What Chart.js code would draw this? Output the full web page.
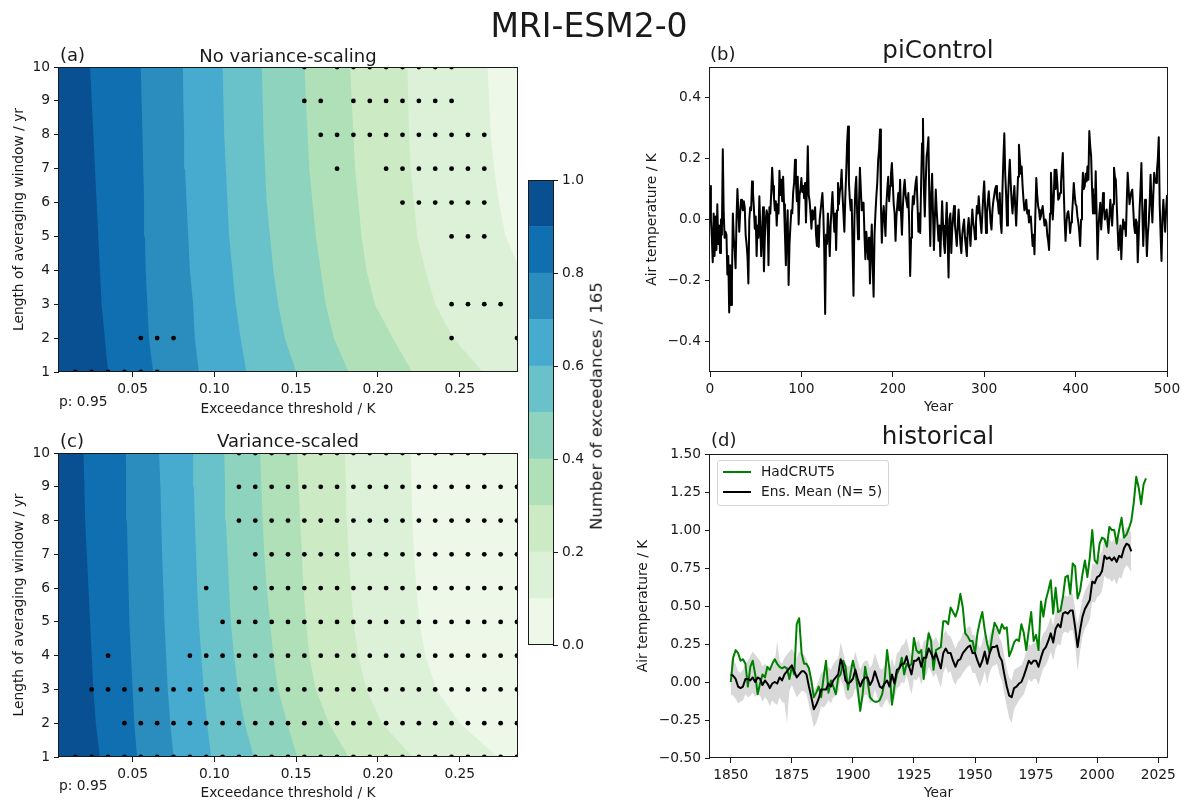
<!DOCTYPE html>
<html>
<head>
<meta charset="utf-8">
<title>MRI-ESM2-0</title>
<script src="https://cdn.jsdelivr.net/npm/chart.js"></script>
<style>
  html, body { margin: 0; padding: 0; background: #fff; overflow: hidden; }
  #fig { position: relative; width: 1187px; height: 803px; overflow: hidden;
         font-family: "DejaVu Sans", sans-serif; color: #1a1a1a; }
  #fig canvas { position: absolute; left: 0; top: 0; }
  .lbl { position: absolute; white-space: nowrap; line-height: 1; }
  .c { transform: translate(-50%, -50%); }
  .l { transform: translate(0, -50%); }
  #legend { position: absolute; left: 717px; top: 460px; width: 172px; height: 46px; box-sizing: border-box;
            border: 1px solid #d4d4d4; border-radius: 3px; background: rgba(255,255,255,0.85); }
  #legend .sw { position: absolute; left: 5px; width: 28px; height: 2px; }
  #legend .tx { position: absolute; left: 43px; font-size: 13.8px; line-height: 1; transform: translate(0, -50%); white-space: nowrap; }
</style>
</head>
<body>
<div id="fig">
  <canvas id="cA" width="1187" height="803"></canvas>
  <canvas id="cC" width="1187" height="803"></canvas>
  <canvas id="cBar" width="1187" height="803"></canvas>
  <canvas id="cB" width="1187" height="803"></canvas>
  <canvas id="cD" width="1187" height="803"></canvas>

  <div class="lbl c" style="left:589px;top:25px;font-size:33px">MRI-ESM2-0</div>

  <div class="lbl l" style="left:60px;top:55px;font-size:18px">(a)</div>
  <div class="lbl c" style="left:288px;top:56px;font-size:18px">No variance-scaling</div>
  <div class="lbl l" style="left:59px;top:402px;font-size:13.8px">p: 0.95</div>

  <div class="lbl l" style="left:60px;top:441px;font-size:18px">(c)</div>
  <div class="lbl c" style="left:288px;top:441px;font-size:18px">Variance-scaled</div>
  <div class="lbl l" style="left:59px;top:786px;font-size:13.8px">p: 0.95</div>

  <div class="lbl c" style="left:597px;top:406px;font-size:16.5px;transform:translate(-50%,-50%) rotate(-90deg)">Number of exceedances / 165</div>

  <div class="lbl l" style="left:710px;top:54px;font-size:18px">(b)</div>
  <div class="lbl c" style="left:938px;top:50px;font-size:24.6px">piControl</div>

  <div class="lbl l" style="left:711px;top:440px;font-size:18px">(d)</div>
  <div class="lbl c" style="left:938px;top:436px;font-size:24.6px">historical</div>

  <div id="legend"></div>
</div>

<script>
// ---------------- data ----------------

// averaging windows (yr) and exceedance-threshold axis
const windows = [1, 2, 3, 4, 5, 6, 7, 8, 9, 10];
const thresholdRange = [0.005, 0.285];
const thresholdTicks = [0.05, 0.10, 0.15, 0.20, 0.25];
const windowTicks = [1, 2, 3, 4, 5, 6, 7, 8, 9, 10];

// colour levels of the exceedance fraction (0 .. 1 in steps of 0.1), GnBu
const levels = [0.0, 0.1, 0.2, 0.3, 0.4, 0.5, 0.6, 0.7, 0.8, 0.9, 1.0];
const bandColors = ['#eef8e8', '#dcf1d7', '#ccebc5', '#afe0b8', '#8dd3be',
                    '#69c2ca', '#47abcf', '#2b8cbe', '#0f6fb0', '#085091'];
const levelTicks = [0.0, 0.2, 0.4, 0.6, 0.8, 1.0];

// contour lines (threshold in K at windows 1..10) for levels 0.1 .. 0.9
const noScaleBounds = [
  [0.310, 0.305, 0.297, 0.287, 0.278, 0.274, 0.271, 0.269, 0.268, 0.267],
  [0.264, 0.246, 0.235, 0.229, 0.224, 0.222, 0.220, 0.219, 0.2185, 0.218],
  [0.221, 0.209, 0.198, 0.193, 0.190, 0.188, 0.186, 0.185, 0.184, 0.183],
  [0.182, 0.173, 0.168, 0.165, 0.162, 0.160, 0.158, 0.157, 0.156, 0.155],
  [0.150, 0.143, 0.139, 0.136, 0.134, 0.132, 0.131, 0.130, 0.1295, 0.129],
  [0.1195, 0.116, 0.113, 0.111, 0.109, 0.108, 0.107, 0.106, 0.1055, 0.105],
  [0.0905, 0.088, 0.087, 0.085, 0.084, 0.083, 0.082, 0.0815, 0.081, 0.0807],
  [0.0625, 0.060, 0.059, 0.058, 0.0575, 0.057, 0.0565, 0.056, 0.0555, 0.055],
  [0.035, 0.033, 0.031, 0.030, 0.029, 0.028, 0.027, 0.026, 0.025, 0.024]
];
const scaledBounds = [
  [0.273, 0.250, 0.2357, 0.229, 0.2253, 0.2235, 0.222, 0.221, 0.2205, 0.220],
  [0.221, 0.2025, 0.193, 0.188, 0.185, 0.1835, 0.182, 0.181, 0.1805, 0.1797],
  [0.182, 0.170, 0.162, 0.158, 0.156, 0.1545, 0.1535, 0.1525, 0.1515, 0.1506],
  [0.1506, 0.1445, 0.139, 0.136, 0.134, 0.132, 0.1305, 0.1295, 0.1287, 0.128],
  [0.124, 0.1185, 0.1145, 0.112, 0.110, 0.109, 0.108, 0.107, 0.1065, 0.106],
  [0.098, 0.0955, 0.0935, 0.092, 0.0905, 0.0895, 0.0888, 0.088, 0.0875, 0.087],
  [0.075, 0.073, 0.0715, 0.0705, 0.0695, 0.0688, 0.068, 0.0675, 0.067, 0.0662],
  [0.0527, 0.051, 0.050, 0.049, 0.048, 0.0475, 0.047, 0.0465, 0.046, 0.0459],
  [0.030, 0.0275, 0.026, 0.025, 0.024, 0.023, 0.022, 0.021, 0.0205, 0.020]
];

// thresholds where the observed exceedances lie outside the p = 0.95 range (rows: windows 1..10)
const noScaleHits = [
  [0.015, 0.025, 0.035, 0.045, 0.055, 0.065],
  [0.055, 0.065, 0.075, 0.245, 0.285],
  [0.245, 0.255, 0.265, 0.275],
  [],
  [0.245, 0.255, 0.265],
  [0.215, 0.225, 0.235, 0.245, 0.255, 0.265],
  [0.175, 0.205, 0.215, 0.225, 0.235, 0.245, 0.255, 0.265],
  [0.165, 0.175, 0.185, 0.195, 0.205, 0.215, 0.225, 0.235, 0.245, 0.255, 0.265],
  [0.155, 0.165, 0.185, 0.195, 0.205, 0.215, 0.225, 0.235, 0.245],
  [0.155, 0.175, 0.185, 0.195, 0.205, 0.215, 0.225, 0.235, 0.245]
];
const scaledHits = [
  [0.015, 0.025, 0.035, 0.045, 0.055, 0.065, 0.075, 0.085, 0.095, 0.105, 0.115, 0.125, 0.135, 0.145,
   0.155, 0.165, 0.175, 0.185, 0.195, 0.205, 0.215, 0.225, 0.235, 0.245, 0.255, 0.265, 0.275, 0.285],
  [0.045, 0.055, 0.065, 0.075, 0.085, 0.095, 0.105, 0.115, 0.125, 0.135, 0.145,
   0.155, 0.165, 0.175, 0.185, 0.195, 0.205, 0.215, 0.225, 0.235, 0.245, 0.255, 0.265, 0.275, 0.285],
  [0.025, 0.035, 0.045, 0.055, 0.065, 0.075, 0.085, 0.095, 0.105, 0.115, 0.125, 0.135, 0.145,
   0.155, 0.165, 0.175, 0.185, 0.195, 0.205, 0.215, 0.225, 0.235, 0.245, 0.255, 0.265, 0.275, 0.285],
  [0.035, 0.085, 0.095, 0.105, 0.115, 0.125, 0.135, 0.145,
   0.155, 0.165, 0.175, 0.185, 0.195, 0.205, 0.215, 0.225, 0.235, 0.245, 0.255, 0.265, 0.275, 0.285],
  [0.105, 0.115, 0.125, 0.135, 0.145,
   0.155, 0.165, 0.175, 0.185, 0.195, 0.205, 0.215, 0.225, 0.235, 0.245, 0.255, 0.265, 0.275, 0.285],
  [0.095, 0.125, 0.135, 0.145,
   0.155, 0.165, 0.175, 0.185, 0.195, 0.205, 0.215, 0.225, 0.235, 0.245, 0.255, 0.265, 0.275, 0.285],
  [0.125, 0.135, 0.145,
   0.155, 0.165, 0.175, 0.185, 0.195, 0.205, 0.215, 0.225, 0.235, 0.245, 0.255, 0.265, 0.275, 0.285],
  [0.115, 0.125, 0.135, 0.145,
   0.155, 0.165, 0.175, 0.185, 0.195, 0.205, 0.215, 0.225, 0.235, 0.245, 0.255, 0.265, 0.275, 0.285],
  [0.115, 0.125, 0.135, 0.145,
   0.155, 0.165, 0.175, 0.185, 0.195, 0.205, 0.215, 0.225, 0.235, 0.245, 0.255, 0.265, 0.275, 0.285],
  [0.115, 0.125, 0.135, 0.145,
   0.155, 0.165, 0.175, 0.185, 0.195, 0.205, 0.215, 0.225, 0.235, 0.245, 0.255, 0.265]
];

// piControl global-mean air temperature anomaly (K), model years 0..500
const piControl = [
  0.11, 0.00, -0.06, -0.14, 0.02, -0.12, 0.01, -0.10, 0.05, -0.08,
  -0.02, -0.11, 0.00, -0.05, 0.23, 0.02, -0.06, -0.04, -0.05, -0.18,
  -0.12, -0.305, -0.15, -0.28, -0.20, 0.02, -0.06, -0.10, -0.16, 0.00,
  0.10, 0.03, -0.04, 0.02, 0.065, 0.05, 0.03, 0.06, 0.04, -0.05,
  -0.08, -0.12, -0.21, 0.00, 0.04, 0.03, 0.125, 0.09, 0.04, -0.03,
  0.01, -0.12, -0.02, -0.06, 0.076, -0.02, -0.12, -0.05, 0.04, -0.17,
  -0.06, 0.00, 0.03, 0.01, -0.15, 0.04, 0.02, 0.09, 0.17, 0.11,
  0.07, 0.03, 0.06, -0.02, 0.05, 0.02, 0.16, 0.08, 0.13, 0.06,
  0.14, 0.05, -0.05, -0.15, -0.03, 0.03, -0.215, -0.08, -0.02, 0.03,
  0.02, 0.09, 0.12, 0.196, 0.13, 0.06, 0.14, -0.016, 0.08, 0.10,
  0.136, 0.09, 0.11, 0.07, 0.12, -0.01, 0.10, 0.24, 0.08, 0.06,
  0.02, -0.03, 0.03, 0.00, 0.02, 0.04, -0.05, -0.087, -0.02, -0.09,
  0.00, 0.03, 0.06, 0.087, 0.02, -0.10, -0.31, -0.05, -0.08, 0.02,
  -0.04, -0.12, -0.02, 0.04, 0.09, 0.02, -0.04, 0.02, -0.10, 0.03,
  0.12, 0.05, 0.09, 0.11, 0.163, 0.08, 0.02, -0.04, 0.07, 0.15,
  0.25, 0.305, 0.12, 0.065, 0.03, 0.065, -0.10, -0.25, 0.00, 0.10,
  0.14, 0.02, -0.065, 0.05, 0.17, 0.10, 0.03, 0.055, 0.055, -0.05,
  -0.13, -0.04, -0.08, -0.13, -0.06, -0.21, -0.10, -0.016, -0.15, -0.253,
  -0.05, 0.02, 0.076, 0.12, 0.196, 0.23, 0.295, 0.05, -0.076, 0.00,
  0.044, 0.00, -0.054, 0.05, 0.10, 0.14, 0.06, 0.11, 0.15, 0.185,
  0.12, 0.05, 0.02, -0.07, 0.01, 0.05, 0.087, 0.03, 0.13, 0.02,
  -0.05, 0.04, 0.10, 0.13, 0.08, 0.06, 0.04, 0.087, -0.02, -0.185,
  -0.06, 0.02, 0.076, 0.05, 0.09, 0.12, 0.14, 0.05, -0.04, 0.02,
  -0.044, 0.12, 0.25, 0.33, 0.10, 0.01, 0.12, 0.207, 0.23, 0.27,
  0.05, -0.087, 0.08, 0.15, 0.02, -0.10, 0.00, 0.098, 0.03, -0.02,
  -0.07, -0.02, -0.12, -0.03, 0.06, -0.02, -0.08, -0.11, -0.02, 0.055,
  -0.06, -0.19, 0.00, 0.02, -0.11, -0.03, 0.01, 0.044, -0.02, -0.05,
  -0.087, -0.02, 0.033, -0.03, -0.08, -0.11, -0.05, -0.02, 0.00, -0.06,
  -0.09, -0.12, -0.03, 0.005, -0.04, -0.087, -0.02, 0.033, -0.01, -0.03,
  -0.065, -0.01, 0.044, 0.02, 0.076, 0.03, -0.01, -0.044, 0.02, 0.08,
  0.125, 0.04, -0.044, 0.02, 0.06, 0.093, 0.04, -0.01, -0.033, 0.03,
  0.06, 0.08, 0.10, 0.11, 0.07, 0.055, 0.02, 0.087, -0.01, -0.044,
  0.10, 0.20, 0.283, 0.15, 0.08, -0.02, 0.06, 0.14, 0.196, 0.12,
  0.06, 0.02, 0.07, 0.11, 0.04, -0.02, 0.06, 0.14, 0.245, 0.20,
  0.15, 0.174, 0.11, 0.065, 0.03, 0.04, 0.065, 0.02, 0.03, -0.01,
  0.00, 0.01, -0.04, -0.087, -0.05, -0.114, 0.02, 0.136, 0.08, 0.044,
  0.03, 0.00, 0.01, 0.03, 0.044, 0.01, -0.02, 0.00, -0.01, -0.05,
  -0.07, -0.10, 0.02, 0.153, 0.08, 0.00, 0.06, 0.163, 0.10, 0.163,
  0.12, 0.065, 0.07, 0.087, 0.12, 0.17, 0.218, 0.10, 0.00, -0.07,
  -0.01, 0.02, 0.027, 0.00, -0.044, -0.01, 0.01, 0.06, 0.12, 0.08,
  0.05, 0.044, 0.01, -0.01, -0.04, -0.087, 0.00, 0.08, 0.153, 0.10,
  0.11, 0.15, 0.125, 0.174, 0.13, 0.29, 0.24, 0.207, 0.10, 0.02,
  0.08, 0.02, 0.158, 0.02, -0.13, -0.03, 0.02, 0.055, -0.033, 0.02,
  0.087, 0.04, 0.00, 0.02, 0.033, -0.01, -0.044, 0.01, 0.065, 0.02,
  -0.02, 0.05, 0.17, 0.14, 0.13, 0.05, -0.03, -0.10, -0.06, -0.02,
  -0.13, -0.05, 0.00, -0.03, -0.01, -0.054, 0.06, 0.153, 0.10, 0.05,
  0.076, 0.09, 0.098, 0.04, -0.02, -0.044, 0.00, -0.01, -0.14, -0.06,
  0.033, 0.10, 0.185, 0.03, -0.087, 0.00, 0.065, -0.02, -0.12, -0.05,
  -0.01, 0.05, 0.147, 0.06, -0.01, 0.08, 0.153, 0.13, 0.12, 0.16,
  0.20, 0.27, 0.05, -0.05, -0.136, 0.00, 0.065, 0.01, -0.04, 0.03, 0.08
];
const controlTicksX = [0, 100, 200, 300, 400, 500];
const controlTicksY = [-0.4, -0.2, 0.0, 0.2, 0.4];

// historical: observed anomaly 1850..2020 and model ensemble 1850..2014 (K)
const obsStart = 1850;
const hadcrut5 = [
  0.00, 0.16, 0.21, 0.19, 0.14, 0.15, 0.12, -0.03, 0.10, 0.14,
  0.05, -0.08, -0.01, 0.05, 0.03, 0.10, 0.08, 0.12, 0.15, 0.12,
  0.10, 0.09, 0.10, 0.09, 0.02, 0.10, 0.05, 0.38, 0.42, 0.19,
  0.12, 0.12, 0.09, 0.01, -0.10, -0.07, -0.03, -0.10, 0.03, 0.14,
  -0.07, 0.01, -0.03, -0.08, 0.03, 0.05, 0.14, 0.10, -0.05, 0.05,
  0.14, 0.07, -0.05, -0.19, -0.08, 0.10, 0.01, -0.10, -0.12, -0.13,
  -0.13, -0.12, -0.08, 0.01, 0.21, 0.08, -0.15, -0.03, 0.05, 0.09,
  0.16, 0.05, 0.12, 0.10, 0.12, 0.29, 0.21, 0.19, 0.21, 0.02,
  0.20, 0.32, 0.27, 0.08, 0.21, 0.22, 0.23, 0.40, 0.40, 0.38,
  0.49, 0.46, 0.43, 0.48, 0.58, 0.49, 0.32, 0.30, 0.27, 0.27,
  0.19, 0.32, 0.40, 0.46, 0.34, 0.25, 0.19, 0.30, 0.39, 0.36,
  0.32, 0.38, 0.35, 0.36, 0.17, 0.21, 0.26, 0.28, 0.27, 0.38,
  0.32, 0.21, 0.34, 0.46, 0.27, 0.31, 0.21, 0.53, 0.43, 0.54,
  0.60, 0.67, 0.45, 0.62, 0.46, 0.47, 0.56, 0.69, 0.70, 0.58,
  0.78, 0.76, 0.55, 0.60, 0.71, 0.80, 0.69, 0.82, 1.00, 0.80,
  0.78, 0.91, 0.95, 0.94, 0.89, 1.02, 1.00, 1.00, 0.91, 1.00,
  1.08, 0.95, 0.97, 1.01, 1.06, 1.18, 1.35, 1.28, 1.17, 1.30,
  1.34
];
const ensMean = [
  0.05, 0.04, 0.02, -0.03, -0.04, -0.03, 0.02, 0.02, 0.01, 0.03,
  0.00, 0.03, 0.02, -0.02, 0.01, -0.01, -0.04, -0.01, 0.00, -0.01,
  0.03, 0.01, 0.05, 0.07, 0.09, 0.11, 0.07, 0.03, 0.05, 0.07,
  0.07, 0.05, -0.03, -0.10, -0.18, -0.15, -0.11, -0.05, -0.05, -0.05,
  -0.01, -0.03, 0.01, 0.03, 0.05, 0.15, 0.10, 0.01, -0.01, 0.00,
  0.02, 0.08, 0.02, -0.03, 0.01, 0.03, 0.03, -0.02, 0.01, 0.07,
  0.02, -0.03, -0.04, -0.01, 0.01, -0.03, 0.05, -0.01, 0.08, 0.09,
  0.12, 0.12, 0.17, 0.10, 0.05, 0.14, 0.14, 0.16, 0.10, 0.16,
  0.16, 0.22, 0.19, 0.15, 0.19, 0.14, 0.09, 0.19, 0.22, 0.19,
  0.19, 0.14, 0.10, 0.14, 0.15, 0.19, 0.21, 0.23, 0.24, 0.19,
  0.19, 0.14, 0.10, 0.14, 0.20, 0.12, 0.19, 0.23, 0.23, 0.24,
  0.17, 0.14, 0.05, -0.03, -0.09, -0.10, -0.04, -0.03, -0.01, 0.00,
  0.04, 0.09, 0.14, 0.12, 0.14, 0.14, 0.10, 0.16, 0.21, 0.23,
  0.27, 0.32, 0.26, 0.35, 0.38, 0.36, 0.45, 0.46, 0.45, 0.47,
  0.47, 0.36, 0.23, 0.34, 0.43, 0.48, 0.51, 0.54, 0.66, 0.65,
  0.69, 0.70, 0.73, 0.83, 0.81, 0.82, 0.80, 0.82, 0.79, 0.83,
  0.82, 0.88, 0.91, 0.90, 0.86
];
const ensLow = [
  -0.08, -0.09, -0.11, -0.14, -0.13, -0.12, -0.08, -0.10, -0.09, -0.07,
  -0.10, -0.08, -0.09, -0.13, -0.10, -0.12, -0.16, -0.12, -0.14, -0.15,
  -0.10, -0.13, -0.14, -0.27, -0.06, -0.02, -0.06, -0.10, -0.08, -0.06,
  -0.06, -0.08, -0.15, -0.22, -0.30, -0.27, -0.22, -0.16, -0.17, -0.15,
  -0.12, -0.14, -0.10, -0.09, -0.07, 0.02, -0.02, -0.10, -0.12, -0.11,
  -0.09, -0.04, -0.10, -0.18, -0.12, -0.08, -0.09, -0.14, -0.12, -0.05,
  -0.10, -0.16, -0.17, -0.13, -0.11, -0.16, -0.08, -0.12, -0.04, -0.03,
  0.00, -0.01, 0.05, -0.02, -0.08, 0.02, 0.01, 0.04, -0.02, 0.04,
  0.04, 0.10, 0.07, 0.03, 0.06, 0.01, -0.04, 0.06, 0.10, 0.06,
  0.07, 0.01, -0.02, 0.02, 0.03, 0.06, 0.08, 0.10, 0.11, 0.06,
  0.06, 0.01, -0.03, 0.01, 0.07, -0.01, 0.06, 0.10, 0.11, 0.12,
  0.05, 0.01, -0.08, -0.16, -0.24, -0.27, -0.18, -0.15, -0.12, -0.10,
  -0.08, -0.03, 0.02, 0.00, 0.02, 0.02, -0.02, 0.04, 0.09, 0.11,
  0.15, 0.20, 0.14, 0.22, 0.25, 0.24, 0.32, 0.33, 0.32, 0.34,
  0.34, 0.24, 0.07, 0.20, 0.30, 0.35, 0.38, 0.41, 0.53, 0.52,
  0.56, 0.57, 0.60, 0.70, 0.68, 0.68, 0.66, 0.68, 0.64, 0.69,
  0.68, 0.74, 0.77, 0.75, 0.72
];
const ensHigh = [
  0.15, 0.14, 0.12, 0.07, 0.06, 0.08, 0.12, 0.14, 0.17, 0.20,
  0.18, 0.16, 0.14, 0.10, 0.12, 0.10, 0.07, 0.10, 0.13, 0.27,
  0.14, 0.12, 0.16, 0.18, 0.20, 0.22, 0.19, 0.16, 0.20, 0.19,
  0.18, 0.15, 0.08, 0.02, -0.06, -0.03, 0.01, 0.06, 0.07, 0.06,
  0.10, 0.08, 0.12, 0.14, 0.16, 0.26, 0.20, 0.12, 0.10, 0.11,
  0.13, 0.20, 0.14, 0.08, 0.12, 0.14, 0.14, 0.09, 0.12, 0.19,
  0.14, 0.09, 0.08, 0.11, 0.13, 0.08, 0.16, 0.10, 0.19, 0.20,
  0.24, 0.25, 0.29, 0.21, 0.17, 0.26, 0.26, 0.28, 0.21, 0.27,
  0.28, 0.34, 0.31, 0.27, 0.30, 0.26, 0.21, 0.31, 0.34, 0.31,
  0.30, 0.26, 0.22, 0.26, 0.28, 0.32, 0.34, 0.36, 0.37, 0.31,
  0.31, 0.26, 0.22, 0.26, 0.33, 0.24, 0.31, 0.35, 0.35, 0.36,
  0.29, 0.26, 0.17, 0.09, 0.03, 0.01, 0.08, 0.09, 0.10, 0.11,
  0.15, 0.20, 0.25, 0.24, 0.26, 0.26, 0.22, 0.28, 0.32, 0.34,
  0.38, 0.43, 0.37, 0.46, 0.49, 0.47, 0.56, 0.57, 0.56, 0.58,
  0.58, 0.48, 0.38, 0.46, 0.55, 0.60, 0.63, 0.66, 0.78, 0.77,
  0.81, 0.83, 0.86, 0.95, 0.93, 0.94, 0.92, 0.94, 0.91, 0.95,
  0.94, 0.99, 1.02, 1.01, 0.98
];
const histRangeX = [1841.5, 2028.6];
const histTicksX = [1850, 1875, 1900, 1925, 1950, 1975, 2000, 2025];
const histTicksY = [-0.50, -0.25, 0.00, 0.25, 0.50, 0.75, 1.00, 1.25, 1.50];
const seriesNames = ['HadCRUT5', 'Ens. Mean (N= 5)'];
const seriesColors = ['#008000', '#000000'];

// ---------------- drawing ----------------
const FONT = '"DejaVu Sans", sans-serif';
const INK = '#1a1a1a';
Chart.defaults.font.family = FONT;
Chart.defaults.font.size = 13.8;
Chart.defaults.color = INK;
Chart.defaults.animation = false;

const minus = s => s.replace('-', '\u2212');

// a linear axis with fixed tick values, outward tick marks and a fixed box size
function axis(o) {
  const vertical = o.position === 'left' || o.position === 'right';
  return {
    type: 'linear', position: o.position, min: o.min, max: o.max,
    afterBuildTicks: s => { s.ticks = o.ticks.map(v => ({ value: v })); },
    afterFit: s => { if (vertical) s.width = o.size; else s.height = o.size; },
    ticks: { callback: v => minus(o.fmt(v)), padding: 4, color: INK,
             font: { family: FONT, size: 13.8 }, maxRotation: 0, minRotation: 0, autoSkip: false },
    grid: { display: true, drawOnChartArea: false, drawTicks: true, tickLength: 5,
            tickColor: INK, tickWidth: 1 },
    border: { display: false },
    title: o.title ? { display: true, text: o.title, color: INK, padding: 0,
                       font: { family: FONT, size: 13.8 } } : { display: false }
  };
}

// box around the plotting area, optional background fill
const framePlugin = {
  id: 'frame',
  beforeDatasetsDraw(chart, args, opts) {
    if (!opts.fill) return;
    const { ctx, chartArea: a } = chart;
    ctx.save();
    ctx.fillStyle = opts.fill;
    ctx.fillRect(a.left, a.top, a.right - a.left, a.bottom - a.top);
    ctx.restore();
  },
  afterDatasetsDraw(chart) {
    const { ctx, chartArea: a } = chart;
    ctx.save();
    ctx.strokeStyle = INK;
    ctx.lineWidth = 1;
    ctx.strokeRect(Math.round(a.left) - 0.5, Math.round(a.top) + 0.5,
                   Math.round(a.right - a.left) + 1, Math.round(a.bottom - a.top) - 1);
    ctx.restore();
  }
};

const baseOptions = (padding, scales, frameFill) => ({
  responsive: false, animation: false, events: [],
  layout: { padding, autoPadding: false },
  plugins: { legend: { display: false }, tooltip: { enabled: false }, frame: { fill: frameFill || null } },
  scales
});

// filled-contour panel: each level is the region left of its contour line
function contourPanel(id, bounds, hits, box) {
  const xStart = thresholdRange[0];
  const last = windows.length - 1;
  const polys = bounds.map((xs, k) => ({
    type: 'line',
    data: [{ x: xStart, y: windows[0] }]
      .concat(xs.map((x, i) => ({ x, y: windows[i] })))
      .concat([{ x: xStart, y: windows[last] }]),
    fill: 'shape', backgroundColor: bandColors[k + 1],
    borderColor: 'transparent', borderWidth: 0, pointRadius: 0, tension: 0
  })).reverse();
  const dots = {
    type: 'scatter',
    data: hits.flatMap((row, i) => row.map(x => ({ x, y: windows[i] }))),
    pointRadius: 2.4, pointBackgroundColor: '#000', pointBorderWidth: 0, clip: 0
  };
  return new Chart(document.getElementById(id), {
    type: 'line',
    data: { datasets: [dots].concat(polys) },
    options: baseOptions(box.padding, {
      x: axis({ position: 'bottom', min: thresholdRange[0], max: thresholdRange[1], ticks: thresholdTicks,
                fmt: v => v.toFixed(2), title: 'Exceedance threshold / K', size: box.xSize }),
      y: axis({ position: 'left', min: windows[0], max: windows[last], ticks: windowTicks,
                fmt: v => String(v), title: 'Length of averaging window / yr', size: box.ySize })
    }, bandColors[0]),
    plugins: [framePlugin]
  });
}

contourPanel('cA', noScaleBounds, noScaleHits,
  { padding: { left: 10.72, top: 67, right: 670, bottom: 385.72 }, ySize: 48.28, xSize: 45.28 });
contourPanel('cC', scaledBounds, scaledHits,
  { padding: { left: 10.72, top: 453, right: 670, bottom: 1.72 }, ySize: 48.28, xSize: 44.28 });

// colour bar
new Chart(document.getElementById('cBar'), {
  type: 'bar',
  data: {
    labels: [''],
    datasets: bandColors.map((c, i) => ({
      data: [[levels[i], levels[i + 1]]], backgroundColor: c, borderWidth: 0,
      barPercentage: 1, categoryPercentage: 1
    }))
  },
  options: baseOptions({ left: 529, top: 180, right: 594, bottom: 158 }, {
    x: { display: false, stacked: true },
    y: axis({ position: 'right', min: levels[0], max: levels[levels.length - 1], ticks: levelTicks,
              fmt: v => v.toFixed(1), size: 40 })
  }),
  plugins: [framePlugin]
});

// piControl time series
new Chart(document.getElementById('cB'), {
  type: 'line',
  data: {
    datasets: [{
      data: piControl.map((v, i) => ({ x: i, y: v })),
      borderColor: '#000', borderWidth: 2, borderJoinStyle: 'round',
      pointRadius: 0, tension: 0, fill: false
    }]
  },
  options: baseOptions({ left: 643.72, top: 67, right: 20, bottom: 387 }, {
    x: axis({ position: 'bottom', min: 0, max: 500, ticks: controlTicksX, fmt: v => String(v),
              title: 'Year', size: 44 }),
    y: axis({ position: 'left', min: -0.5, max: 0.5, ticks: controlTicksY, fmt: v => v.toFixed(1),
              title: 'Air temperature / K', size: 66.28 })
  }),
  plugins: [framePlugin]
});

// historical: observations, ensemble mean and ensemble range
const xy = arr => arr.map((v, i) => ({ x: obsStart + i, y: v }));
new Chart(document.getElementById('cD'), {
  type: 'line',
  data: {
    datasets: [
      { data: xy(ensMean), borderColor: seriesColors[1], borderWidth: 2, borderJoinStyle: 'round',
        pointRadius: 0, tension: 0, fill: false },
      { data: xy(hadcrut5), borderColor: seriesColors[0], borderWidth: 2, borderJoinStyle: 'round',
        pointRadius: 0, tension: 0, fill: false },
      { data: xy(ensHigh), borderWidth: 0, pointRadius: 0, tension: 0,
        fill: '+1', backgroundColor: '#d8d8d8' },
      { data: xy(ensLow), borderWidth: 0, pointRadius: 0, tension: 0, fill: false }
    ]
  },
  options: baseOptions({ left: 635.22, top: 454, right: 20, bottom: 1.72 }, {
    x: axis({ position: 'bottom', min: histRangeX[0], max: histRangeX[1], ticks: histTicksX,
              fmt: v => String(v), title: 'Year', size: 43.28 }),
    y: axis({ position: 'left', min: -0.5, max: 1.5, ticks: histTicksY, fmt: v => v.toFixed(2),
              title: 'Air temperature / K', size: 74.78 })
  }),
  plugins: [framePlugin]
});

// legend for panel (d)
const legend = document.getElementById('legend');
seriesNames.forEach((name, i) => {
  const y = 11 + 20 * i;
  const sw = document.createElement('div');
  sw.className = 'sw';
  sw.style.top = (y - 1) + 'px';
  sw.style.background = seriesColors[i];
  const tx = document.createElement('div');
  tx.className = 'tx';
  tx.style.top = y + 'px';
  tx.textContent = name;
  legend.appendChild(sw);
  legend.appendChild(tx);
});
</script>
</body>
</html>
